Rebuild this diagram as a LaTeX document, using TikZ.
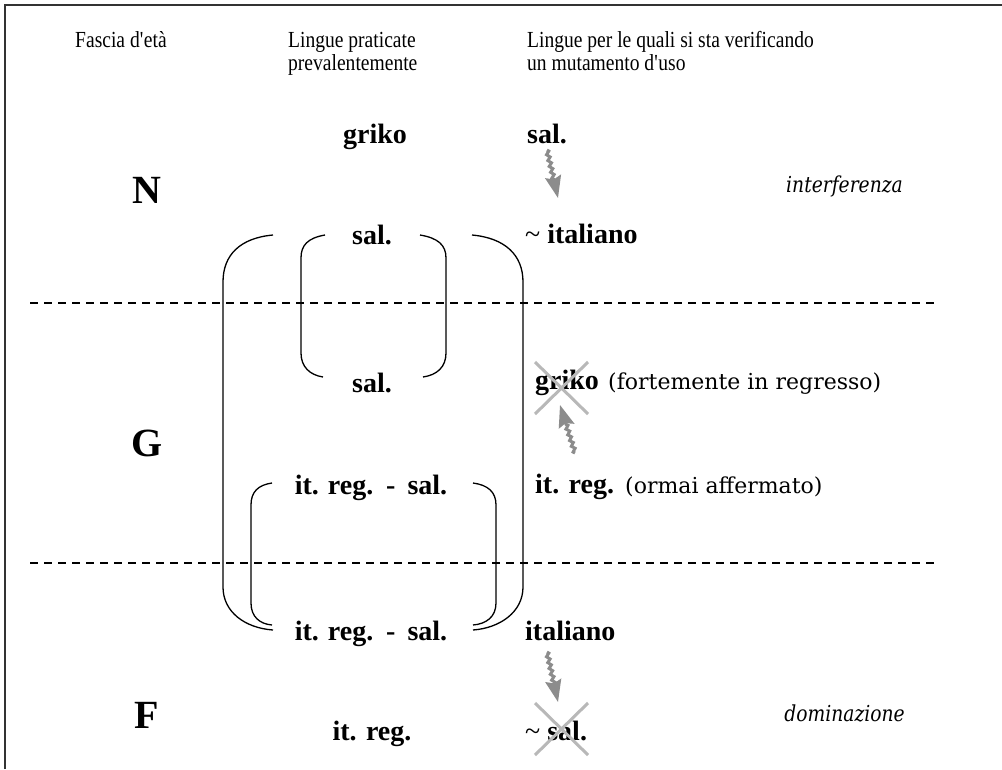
\documentclass[tikz,border=0pt]{standalone}
\usepackage{fontspec}
\setmainfont{Liberation Serif}
\newfontfamily\dvs{DejaVu Serif}
\newfontfamily\dvsc[FakeStretch=0.85]{DejaVu Serif}
\newfontfamily\hdrfont[FakeStretch=0.85]{Liberation Serif}
\usetikzlibrary{arrows.meta,decorations.pathmorphing}
\definecolor{arrowgray}{HTML}{8C8C8C}
\definecolor{crossgray}{HTML}{B8B8B8}
\definecolor{framegray}{HTML}{333333}
\begin{document}
\begin{tikzpicture}[x=1pt,y=-1pt,
  hdr/.style={font=\hdrfont\fontsize{23}{27}\selectfont, anchor=base west, inner sep=0pt},
  lab/.style={font=\fontsize{28}{33}\selectfont\bfseries, inner sep=0pt},
  big/.style={font=\fontsize{40}{46}\selectfont\bfseries, anchor=base, inner sep=0pt},
  note/.style={font=\dvs\fontsize{22}{26}\selectfont, anchor=base west, inner sep=0pt},
  role/.style={font=\dvsc\itshape\fontsize{22}{26}\selectfont, inner sep=0pt},
  bracket/.style={draw=black, line width=1.3pt},
  dashline/.style={draw=black, line width=1.2pt, dash pattern=on 8pt off 6pt},
  garrow/.style={draw=arrowgray, line width=3pt, decorate,
    decoration={zigzag, amplitude=1.5pt, segment length=6pt, post length=18pt},
    -{Stealth[length=22pt,width=16pt,inset=3pt]}},
  xcross/.style={draw=crossgray, line width=3pt},
  frame/.style={draw=framegray, line width=2pt}]
\useasboundingbox (0,0) rectangle (1002,769);
\fill[white] (0,0) rectangle (1002,769);
% frame
\draw[frame] (5,769) -- (5,5) -- (1002,5);
% headers
\node[hdr] (h1) at (75,47) {Fascia d\textquotesingle et\`a};
\node[hdr] (h2a) at (288,47) {Lingue praticate};
\node[hdr] (h2b) at (288,70) {prevalentemente};
\node[hdr] (h3a) at (527,47) {Lingue per le quali si sta verificando};
\node[hdr] (h3b) at (527,70) {un mutamento d\textquotesingle uso};
% row N
\node[lab, anchor=base] (griko1) at (375,143) {griko};
\node[lab, anchor=base west] (salN) at (527,143) {sal.};
\node[big] (N) at (147,203) {N};
\node[role, anchor=base east] (interf) at (903,192) {interferenza};
\node[lab, anchor=base] (salA) at (372,244) {sal.};
\node[lab, anchor=base west] (ital) at (525,243) {{\mdseries\textasciitilde}\ italiano};
% row G
\node[lab, anchor=base] (salB) at (372,392) {sal.};
\node[lab, anchor=base west] (griko2) at (535,389) {griko};
\node[note] (regr) at (608,389) {(fortemente in regresso)};
\node[big] (G) at (147,456) {G};
\node[lab, anchor=base] (irs1) at (371,494) {it.\hspace{9pt}reg.\hspace{13pt}-\hspace{12pt}sal.};
\node[lab, anchor=base west] (itreg) at (535,493) {it. reg.};
\node[note] (aff) at (625,493) {(ormai affermato)};
% row F
\node[lab, anchor=base] (irs2) at (371,640) {it.\hspace{9pt}reg.\hspace{13pt}-\hspace{12pt}sal.};
\node[lab, anchor=base west] (ital2) at (525,640) {italiano};
\node[big] (F) at (147,728) {F};
\node[role, anchor=base east] (domin) at (905,721) {dominazione};
\node[lab, anchor=base] (itreg2) at (372,740) {it. reg.};
\node[lab, anchor=base west] (salF) at (525,740) {{\mdseries\textasciitilde}\ sal.};
% dashed separators
\draw[dashline] (30,303) -- (935,303);
\draw[dashline] (30,563) -- (935,563);
% outer bracket
\draw[bracket] (273,235) .. controls (240,238) and (223,255) .. (223,282) -- (223,587)
  .. controls (223,612) and (245,628) .. (273,630);
\draw[bracket] (472,235) .. controls (505,238) and (523,255) .. (523,282) -- (523,587)
  .. controls (523,612) and (500,628) .. (473,630);
% inner sal. bracket
\draw[bracket] (325,235) .. controls (308,238) and (301,245) .. (301,258) -- (301,353)
  .. controls (301,367) and (310,375) .. (323,377);
\draw[bracket] (420,235) .. controls (438,238) and (446,245) .. (446,258) -- (446,353)
  .. controls (446,367) and (437,375) .. (423,377);
% inner it. reg. - sal. bracket
\draw[bracket] (272,483) .. controls (258,485) and (251,492) .. (251,505) -- (251,603)
  .. controls (251,617) and (260,624) .. (272,625);
\draw[bracket] (473,483) .. controls (488,485) and (496,492) .. (496,505) -- (496,603)
  .. controls (496,617) and (486,624) .. (473,625);
% arrows
\coordinate (a1s) at (547,150); \coordinate (a1e) at (558,198);
\coordinate (a2s) at (575,453); \coordinate (a2e) at (560,405);
\coordinate (a3s) at (547,652); \coordinate (a3e) at (558,702);
\draw[garrow] (a1s) -- (a1e);
\draw[garrow] (a2s) -- (a2e);
\draw[garrow] (a3s) -- (a3e);
% crosses
\draw[xcross] (535,362) -- (588,414) (588,362) -- (535,414);
\draw[xcross] (535,703) -- (588,755) (588,703) -- (535,755);
\end{tikzpicture}
\end{document}
